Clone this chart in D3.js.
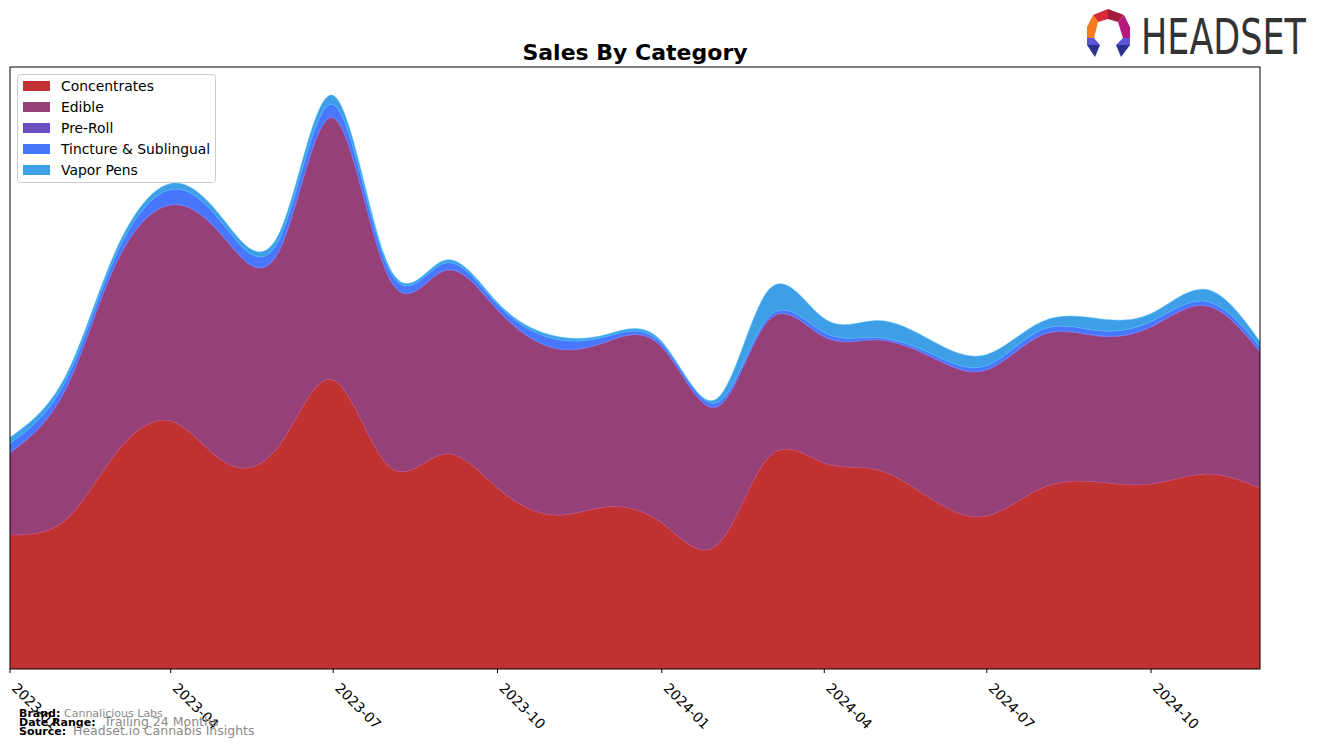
<!DOCTYPE html>
<html>
<head>
<meta charset="utf-8">
<script src="https://cdn.jsdelivr.net/npm/d3@7"></script>
<style>
  html, body { margin: 0; padding: 0; background: #fff; }
  svg { display: block; font-family: "DejaVu Sans", sans-serif; }
</style>
</head>
<body>
<svg id="chart" width="1324" height="748"></svg>
<script>
// monthly sales by category (arbitrary units)
const months = ['2023-01','2023-02','2023-03','2023-04','2023-05','2023-06','2023-07','2023-08',
  '2023-09','2023-10','2023-11','2023-12','2024-01','2024-02','2024-03','2024-04','2024-05',
  '2024-06','2024-07','2024-08','2024-09','2024-10','2024-11','2024-12'];
const concentrates = [134,149,215,248,207,224,289,203,215,181,154,162,146,124,212,206,199,169,153,181,187,185,195,181];
const edible       = [82,130,189,216,224,195,262,189,183,178,167,165,176,138,137,126,130,142,146,153,146,157,168,136];
const preRoll      = [0.5,0.5,0.5,0.5,0.5,0.5,0.5,0.5,0.5,0.5,0.5,0.5,0.5,0.5,0.5,0.5,0.5,0.5,0.5,0.5,0.5,0.5,0.5,0.5];
const tincture     = [9,8,8,15,12,11,13,8,7,5,9,5,3,4,3,4,2,3,4,5,5,5,4,5];
const vaporPens    = [6,5,5,6,5,6,9,3,3,2,3,2,2,4,27,14,17,13,11,8,12,8,12,5];
const categories = ['Concentrates','Edible','Pre-Roll','Tincture & Sublingual','Vapor Pens'];
const tickLabels = ['2023-01','2023-04','2023-07','2023-10','2024-01','2024-04','2024-07','2024-10'];

const colors = {
  'Concentrates': '#c03232',
  'Edible': '#954077',
  'Pre-Roll': '#6f4bc1',
  'Tincture & Sublingual': '#4876fd',
  'Vapor Pens': '#3e9fe6'
};

const parse = d3.timeParse('%Y-%m');
const series = [concentrates, edible, preRoll, tincture, vaporPens];
const rows = months.map((m, i) => {
  const r = { date: parse(m) };
  categories.forEach((c, j) => { r[c] = series[j][i]; });
  return r;
});

const svg = d3.select('#chart');
const plotLeft = 10, plotRight = 1260, plotTop = 67, plotBottom = 669;

const x = d3.scaleTime()
  .domain([parse(months[0]), parse(months[months.length - 1])])
  .range([plotLeft, plotRight]);
const y = d3.scaleLinear().domain([0, 602]).range([plotBottom, plotTop]);

const stacked = d3.stack().keys(categories)(rows);

const area = d3.area()
  .curve(d3.curveNatural)
  .x(d => x(d.data.date))
  .y0(d => y(d[0]))
  .y1(d => y(d[1]));

svg.append('defs').append('clipPath').attr('id', 'plot-clip')
  .append('rect').attr('x', plotLeft).attr('y', plotTop)
  .attr('width', plotRight - plotLeft).attr('height', plotBottom - plotTop);

svg.append('g').attr('clip-path', 'url(#plot-clip)')
  .selectAll('path')
  .data(stacked)
  .enter().append('path')
  .attr('d', area)
  .style('fill', d => colors[d.key])
  .style('stroke', d => d3.color(colors[d.key]).brighter(0.6))
  .style('stroke-width', 0.5);

// frame
svg.append('rect')
  .attr('x', plotLeft).attr('y', plotTop)
  .attr('width', plotRight - plotLeft).attr('height', plotBottom - plotTop)
  .style('fill', 'none').style('stroke', '#000').style('stroke-width', 1);

// x axis
const xAxis = svg.append('g').attr('transform', `translate(0,${plotBottom})`);
const tickDates = tickLabels.map(parse);
xAxis.selectAll('line')
  .data(tickDates)
  .enter().append('line')
  .attr('x1', d => x(d)).attr('x2', d => x(d))
  .attr('y1', 0).attr('y2', 4)
  .style('stroke', '#000');
xAxis.selectAll('text')
  .data(tickDates)
  .enter().append('text')
  .attr('transform', d => `translate(${x(d) + 1},${20}) rotate(45)`)
  .style('font-size', '13.9px')
  .style('fill', '#000')
  .text(d3.timeFormat('%Y-%m'));

// title
svg.append('text')
  .attr('x', (plotLeft + plotRight) / 2).attr('y', 60)
  .attr('text-anchor', 'middle')
  .style('font-size', '22px').style('font-weight', 'bold')
  .text('Sales By Category');

// legend
const legend = svg.append('g');
legend.append('rect')
  .attr('x', 17.5).attr('y', 74.5).attr('width', 198).attr('height', 108)
  .attr('rx', 3)
  .style('fill', 'rgba(255,255,255,0.8)').style('stroke', '#ccc');
const items = legend.selectAll('g.item')
  .data(categories)
  .enter().append('g')
  .attr('transform', (d, i) => `translate(0,${86 + i * 21})`);
items.append('rect')
  .attr('x', 23).attr('y', -5).attr('width', 27).attr('height', 10)
  .style('fill', d => colors[d]);
items.append('text')
  .attr('x', 61).attr('y', 5)
  .style('font-size', '13.9px')
  .text(d => d);

// footer
const footer = [
  { label: 'Brand:', value: 'Cannalicious Labs', vx: 64, y: 717, size: 11 },
  { label: 'Date Range:', value: 'Trailing 24 Months', vx: 104, y: 726, size: 12.5 },
  { label: 'Source:', value: 'Headset.io Cannabis Insights', vx: 73, y: 735, size: 12.5 }
];
footer.forEach(f => {
  svg.append('text').attr('x', 19).attr('y', f.y)
    .style('font-size', '11px').style('font-weight', 'bold').text(f.label);
  svg.append('text').attr('x', f.vx).attr('y', f.y)
    .style('font-size', f.size + 'px').style('fill', '#8a8a8a').text(f.value);
});

// logo
const logo = svg.append('g');
const pieces = [
  { c: '#d42a3a', p: [[1093,15],[1108,9],[1108,19],[1098,22]] },
  { c: '#a31c3e', p: [[1108,9],[1124,15],[1118,22],[1108,19]] },
  { c: '#f47b20', p: [[1093,15],[1098,22],[1094,38],[1087,38],[1087,27]] },
  { c: '#b5197e', p: [[1124,15],[1130,27],[1130,38],[1123,38],[1118,22]] },
  { c: '#5b55d6', p: [[1087,38],[1094,38],[1100,45],[1087,45]] },
  { c: '#2b2f8f', p: [[1087,45],[1100,45],[1095,57]] },
  { c: '#5b55d6', p: [[1123,38],[1130,38],[1130,45],[1116,45]] },
  { c: '#2b2f8f', p: [[1116,45],[1130,45],[1121,57]] }
];
logo.selectAll('path')
  .data(pieces)
  .enter().append('path')
  .attr('d', d => d3.line()(d.p) + 'Z')
  .style('fill', d => d.c);
logo.append('text')
  .attr('x', 1141).attr('y', 54)
  .attr('textLength', 165).attr('lengthAdjust', 'spacingAndGlyphs')
  .style('font-size', '50px').style('fill', '#333')
  .text('HEADSET');
</script>
</body>
</html>
